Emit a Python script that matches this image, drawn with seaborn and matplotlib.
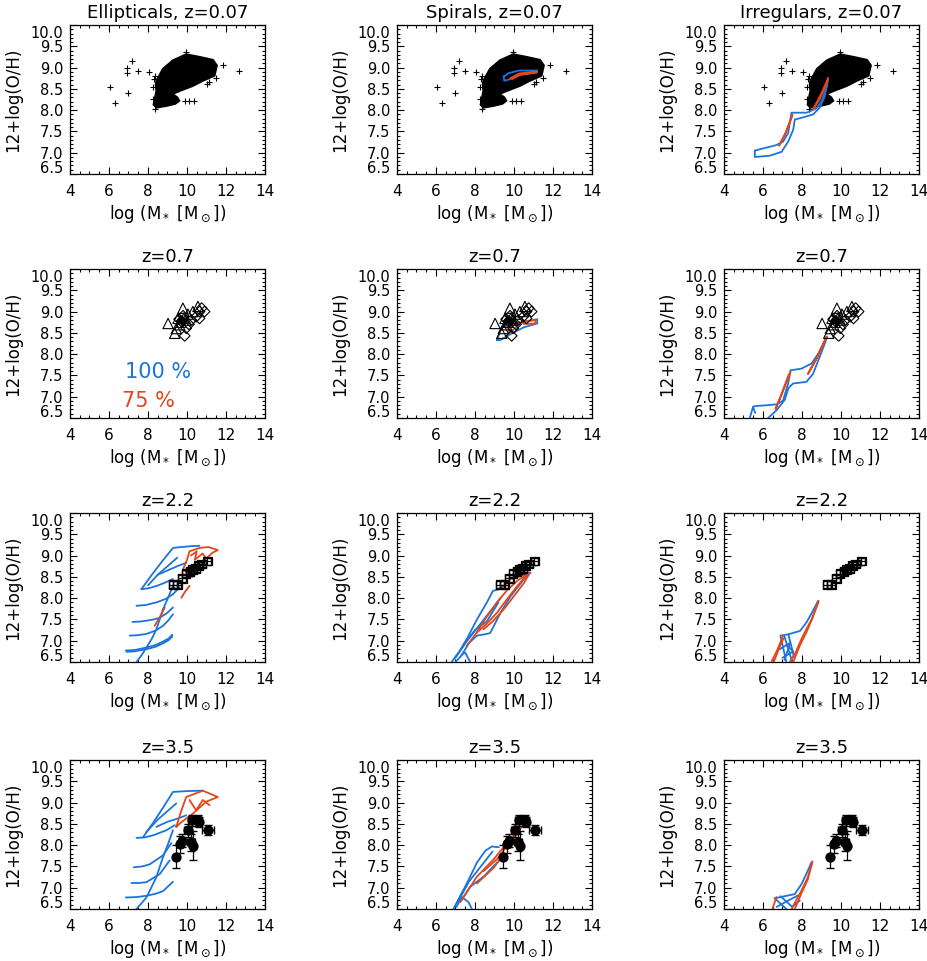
import matplotlib
matplotlib.use("Agg")
import matplotlib.pyplot as plt
import matplotlib.transforms as mtransforms
import pandas as pd
import seaborn as sns
from matplotlib.ticker import MultipleLocator

sns.set_style("ticks")
plt.rcParams["font.family"] = ["DejaVu Sans"]
plt.rcParams["mathtext.fontset"] = "dejavusans"
for key in ["text.color", "axes.labelcolor", "xtick.color", "ytick.color", "axes.edgecolor"]:
    plt.rcParams[key] = "black"

BLUE = "#1a74dc"
ORANGE = "#e2461a"

# local SDSS-like cloud (z=0.07), outline of the dense part + scattered points
CLOUD_X = [8.29, 8.43, 8.40, 8.43, 8.77, 9.28, 9.96, 10.64, 11.33, 11.53, 11.41,
           10.81, 10.30, 9.62, 9.25, 9.50, 9.60, 9.40, 8.94, 8.43]
CLOUD_Y = [8.13, 8.45, 8.60, 8.69, 8.97, 9.17, 9.31, 9.25, 9.18, 9.05, 8.81,
           8.69, 8.57, 8.45, 8.38, 8.30, 8.22, 8.15, 8.10, 8.06]
OUT_X = [6.04, 6.30, 6.90, 6.93, 7.00, 7.19, 7.50, 8.04, 8.34, 9.90, 10.10, 10.35,
         11.15, 11.87, 12.69, 9.96, 8.25, 8.30, 8.28, 11.50, 11.05, 8.35]
OUT_Y = [8.55, 8.16, 8.87, 8.99, 8.40, 9.15, 8.91, 8.89, 8.02, 8.22, 8.21, 8.22,
         8.65, 9.07, 8.93, 9.37, 8.55, 8.72, 8.25, 8.76, 8.62, 8.80]

# z=0.7 observations
Z07_TRI_X = [9.03, 9.37, 9.45, 9.54, 9.62, 9.79, 9.96, 10.05, 10.30, 10.56, 9.70, 9.85]
Z07_TRI_Y = [8.72, 8.49, 8.60, 8.84, 8.69, 9.08, 8.80, 8.94, 9.00, 9.12, 8.75, 8.85]
Z07_DIA_X = [9.88, 10.64, 10.90, 10.47, 10.22, 9.71, 9.96, 10.64, 9.60, 9.80, 10.10, 10.75]
Z07_DIA_Y = [8.43, 9.00, 9.00, 8.88, 8.80, 8.77, 8.61, 8.84, 8.82, 8.90, 8.70, 9.08]
Z07_DOT_X = [9.60, 9.65, 9.70, 9.75, 9.80, 9.68]
Z07_DOT_Y = [8.80, 8.78, 8.83, 8.80, 8.76, 8.86]

# z=2.2 observations
Z22_X = [9.30, 9.50, 9.75, 9.95, 10.15, 10.30, 10.45, 10.60, 10.75, 11.05]
Z22_Y = [8.32, 8.32, 8.47, 8.57, 8.63, 8.67, 8.70, 8.77, 8.80, 8.87]
Z22_XERR = [0.2] * 10
Z22_YERR = [0.08] * 10

# z=3.5 observations
Z35_X = [9.45, 9.62, 9.76, 10.05, 10.22, 10.30, 10.27, 10.56, 10.64, 11.07]
Z35_Y = [7.73, 8.02, 8.10, 8.35, 8.07, 7.99, 8.58, 8.58, 8.54, 8.36]
Z35_XERR = [0.10, 0.15, 0.15, 0.20, 0.20, 0.15, 0.20, 0.15, 0.15, 0.30]
Z35_YERR = [0.27, 0.20, 0.15, 0.15, 0.20, 0.35, 0.12, 0.12, 0.12, 0.12]

# model tracks: (x list, y list) per segment
SPI_Z007_BLUE = [([9.47, 9.50, 9.82, 10.25, 11.19, 11.19, 10.25, 9.73, 9.47],
                  [8.79, 8.69, 8.73, 8.83, 8.89, 8.93, 8.93, 8.87, 8.79])]
SPI_Z007_ORANGE = [([9.82, 10.25, 11.15, 11.15, 10.33, 9.90, 9.82],
                    [8.75, 8.86, 8.91, 8.88, 8.83, 8.73, 8.75])]

IRR_Z007_BLUE = [([5.58, 6.00, 6.69, 7.03, 7.29, 7.46, 8.23, 8.74, 9.00, 9.26, 9.34],
                  [7.05, 7.10, 7.18, 7.26, 7.46, 7.94, 7.94, 8.04, 8.21, 8.53, 8.75]),
                 ([5.58, 5.58, 6.35, 6.95, 7.29, 7.55, 7.63, 7.97, 8.57, 8.91, 9.17, 9.34],
                  [7.05, 6.90, 6.93, 7.02, 7.26, 7.54, 7.78, 7.82, 7.90, 8.06, 8.33, 8.75])]
IRR_Z007_ORANGE = [([6.83, 7.20, 7.51, 7.45, 7.10, 6.83], [7.17, 7.50, 7.90, 7.80, 7.40, 7.17]),
                   ([8.57, 9.00, 9.34, 9.25, 8.90, 8.57], [8.02, 8.40, 8.75, 8.60, 8.25, 8.02])]

SPI_Z07_BLUE = [([9.13, 9.39, 9.82, 10.50, 11.19, 11.19, 10.50, 9.82, 9.30, 9.13],
                 [8.33, 8.65, 8.69, 8.76, 8.82, 8.72, 8.63, 8.47, 8.33, 8.33])]
SPI_Z07_ORANGE = [([9.73, 9.78, 10.25, 10.16, 9.80, 9.73], [8.53, 8.63, 8.76, 8.66, 8.50, 8.53]),
                  ([10.42, 11.10, 11.10, 10.50, 10.42], [8.76, 8.80, 8.72, 8.71, 8.76])]

IRR_Z07_BLUE = [([5.32, 5.49, 5.58, 6.20, 6.69, 7.03, 7.29, 7.41, 7.97, 8.49, 8.83, 9.09, 9.29],
                 [6.50, 6.76, 6.78, 6.80, 6.82, 6.91, 7.31, 7.62, 7.66, 7.78, 8.01, 8.25, 8.41]),
                ([6.26, 6.69, 7.12, 7.30, 7.54, 8.23, 8.57, 8.91, 9.17, 9.29],
                 [6.50, 6.68, 6.93, 7.20, 7.31, 7.35, 7.54, 7.94, 8.25, 8.41]),
                ([5.49, 5.60], [6.76, 6.62])]
IRR_Z07_ORANGE = [([6.65, 7.00, 7.41, 7.30, 6.90, 6.65], [6.72, 7.10, 7.58, 7.50, 7.00, 6.72]),
                  ([8.31, 8.80, 9.26, 9.15, 8.70, 8.31], [7.54, 7.95, 8.41, 8.30, 7.85, 7.54])]

ELL_Z22_BLUE = [([7.41, 7.70, 7.92, 8.20, 8.43, 8.60, 8.77, 9.03, 9.28],
                 [6.50, 6.68, 6.84, 7.05, 7.27, 7.50, 7.74, 8.01, 8.29]),
                ([6.86, 7.30, 7.92, 8.40, 8.77, 9.05, 9.25], [6.77, 6.78, 6.84, 6.90, 6.98, 7.05, 7.14]),
                ([6.90, 7.30, 7.92, 8.40, 8.77, 9.05, 9.25], [6.74, 6.75, 6.80, 6.86, 6.94, 7.01, 7.10]),
                ([7.07, 7.50, 7.92, 8.40, 8.77, 9.05, 9.28], [7.12, 7.13, 7.16, 7.24, 7.35, 7.48, 7.62]),
                ([7.20, 7.60, 7.92, 8.30, 8.60, 8.95, 9.28], [7.44, 7.45, 7.47, 7.50, 7.54, 7.64, 7.78]),
                ([7.41, 7.90, 8.43, 8.90, 9.28, 9.60], [7.82, 7.84, 7.90, 7.98, 8.09, 8.25]),
                ([7.66, 8.00, 8.40, 8.80, 9.28], [8.21, 8.23, 8.28, 8.35, 8.45]),
                ([7.66, 8.20, 8.70, 9.28, 9.70, 10.20, 10.64], [8.21, 8.55, 8.85, 9.18, 9.20, 9.22, 9.23]),
                ([8.00, 8.50, 9.00, 9.50], [8.30, 8.55, 8.75, 8.95]),
                ([8.50, 9.00, 9.50, 9.96], [8.55, 8.65, 8.75, 8.83])]
ELL_Z22_ORANGE = [([9.79, 10.00, 10.13, 10.64, 11.10, 11.58, 11.32, 10.90, 10.64, 10.30, 9.79],
                   [8.67, 8.90, 9.10, 9.18, 9.20, 9.13, 9.07, 8.90, 8.75, 8.50, 8.67]),
                  ([10.20, 10.50, 10.40, 10.80, 10.95], [9.00, 9.10, 8.90, 9.05, 8.95]),
                  ([9.71, 9.90, 10.13], [8.01, 8.15, 8.29]),
                  ([8.34, 8.60, 8.86], [7.35, 7.55, 7.78])]

ELL_Z35_BLUE = [([7.41, 7.92, 8.43, 8.77, 9.03, 9.28], [6.50, 6.77, 7.25, 7.72, 8.03, 8.35]),
                ([6.86, 7.40, 7.92, 8.40, 8.77, 9.28], [6.77, 6.78, 6.81, 6.86, 6.92, 7.14]),
                ([7.15, 7.50, 7.92, 8.60, 9.11], [7.11, 7.11, 7.13, 7.32, 7.64]),
                ([7.27, 7.70, 8.09, 8.77, 9.20], [7.48, 7.50, 7.55, 7.76, 8.05]),
                ([7.41, 7.80, 8.26, 8.94, 9.37], [8.17, 8.18, 8.23, 8.35, 8.47]),
                ([7.75, 8.30, 8.80, 9.28, 10.00, 10.81], [8.19, 8.55, 8.90, 9.25, 9.27, 9.28]),
                ([7.92, 8.50, 9.00, 9.45], [8.31, 8.60, 8.80, 8.98]),
                ([8.43, 9.00, 9.50, 9.96], [8.43, 8.55, 8.62, 8.70])]
ELL_Z35_ORANGE = [([9.45, 9.70, 9.96, 10.81, 11.58, 10.98, 10.30, 9.71, 9.45],
                   [8.43, 8.80, 9.13, 9.28, 9.13, 9.02, 8.74, 8.54, 8.43]),
                  ([10.13, 10.47, 10.81, 11.15], [9.06, 8.82, 9.06, 8.94])]

SPI_Z22_BLUE = [([6.80, 7.20, 7.58, 8.10, 8.61, 8.92, 9.22], [6.50, 6.75, 7.04, 7.50, 7.90, 8.17, 8.21]),
                ([7.30, 7.70, 8.10, 8.50, 8.78, 9.30, 9.82, 10.50, 10.85],
                 [6.65, 6.95, 7.12, 7.15, 7.18, 7.65, 8.04, 8.44, 8.60]),
                ([7.00, 7.60, 8.20, 8.80, 9.30], [6.60, 7.00, 7.35, 7.70, 8.00]),
                ([7.40, 8.00, 8.60, 9.20], [6.90, 7.25, 7.45, 7.90]),
                ([7.00, 7.40, 7.50, 7.75], [6.50, 6.70, 6.72, 6.50])]
SPI_Z22_ORANGE = [([7.58, 8.10, 8.61, 9.13, 9.65, 10.20, 10.76], [6.88, 7.20, 7.57, 7.90, 8.19, 8.42, 8.58]),
                  ([8.10, 8.60, 9.13, 9.65, 10.16, 10.76], [7.19, 7.40, 7.66, 7.98, 8.28, 8.60]),
                  ([8.44, 8.90, 9.48, 10.00, 10.50, 10.76], [7.27, 7.45, 7.74, 8.05, 8.35, 8.55]),
                  ([9.20, 9.50, 9.82, 10.20, 10.76], [8.20, 8.30, 8.45, 8.50, 8.60])]

SPI_Z35_BLUE = [([6.89, 7.58, 8.10, 8.53, 8.87, 9.22], [6.50, 7.10, 7.59, 7.87, 7.97, 7.95]),
                ([7.30, 7.75, 8.44, 8.96, 9.47], [6.70, 7.02, 7.26, 7.51, 7.75]),
                ([7.10, 7.70, 8.30, 8.90], [6.65, 7.15, 7.50, 7.85]),
                ([7.05, 7.32, 7.67, 7.84], [6.55, 6.78, 6.66, 6.50])]
SPI_Z35_ORANGE = [([7.24, 8.10, 8.96, 9.82, 10.50], [6.66, 7.26, 7.67, 8.15, 8.47]),
                  ([8.44, 9.13, 9.65, 10.16], [7.39, 7.67, 7.99, 8.31]),
                  ([8.10, 8.96, 9.47], [7.10, 7.47, 7.79])]

IRR_Z22_BLUE = [([6.90, 7.30, 7.90, 8.23, 8.50, 8.83], [7.12, 7.15, 7.23, 7.43, 7.65, 7.94]),
                ([6.90, 7.20], [7.10, 6.50]), ([7.10, 7.50], [7.10, 6.50]),
                ([7.30, 7.60], [7.15, 6.60]), ([6.85, 7.40, 7.10], [6.80, 6.95, 6.55]),
                ([7.00, 7.55, 7.20], [6.60, 6.75, 6.90])]
IRR_Z22_ORANGE = [([6.43, 6.75, 7.03], [6.50, 6.80, 7.12]),
                  ([6.55, 6.85, 7.05], [6.50, 6.85, 7.05]),
                  ([7.37, 7.70, 7.97, 8.20, 8.49, 8.86], [6.50, 6.75, 7.04, 7.25, 7.50, 7.93]),
                  ([7.55, 7.90, 8.23, 8.55, 8.83], [6.50, 6.90, 7.20, 7.55, 7.90])]

IRR_Z35_BLUE = [([6.60, 7.10, 7.63, 7.97, 8.25, 8.49], [6.75, 6.80, 6.85, 7.08, 7.35, 7.60]),
                ([6.60, 7.20], [6.75, 6.50]), ([6.90, 7.50, 7.89], [6.80, 6.55, 6.70]),
                ([6.70, 7.30, 7.80], [6.55, 6.70, 6.82])]
IRR_Z35_ORANGE = [([6.48, 6.69], [6.50, 6.78]),
                  ([7.46, 7.97, 8.30, 8.54], [6.50, 6.93, 7.25, 7.62]),
                  ([7.63, 8.00, 8.30, 8.50], [6.50, 6.90, 7.20, 7.55])]

TITLES = [["Ellipticals, z=0.07", "Spirals, z=0.07", "Irregulars, z=0.07"],
          ["z=0.7"] * 3, ["z=2.2"] * 3, ["z=3.5"] * 3]
TRACKS = [[(None, None), (SPI_Z007_BLUE, SPI_Z007_ORANGE), (IRR_Z007_BLUE, IRR_Z007_ORANGE)],
          [(None, None), (SPI_Z07_BLUE, SPI_Z07_ORANGE), (IRR_Z07_BLUE, IRR_Z07_ORANGE)],
          [(ELL_Z22_BLUE, ELL_Z22_ORANGE), (SPI_Z22_BLUE, SPI_Z22_ORANGE), (IRR_Z22_BLUE, IRR_Z22_ORANGE)],
          [(ELL_Z35_BLUE, ELL_Z35_ORANGE), (SPI_Z35_BLUE, SPI_Z35_ORANGE), (IRR_Z35_BLUE, IRR_Z35_ORANGE)]]
X_TICKS = [4, 6, 8, 10, 12, 14]
Y_TICKS = [6.5, 7.0, 7.5, 8.0, 8.5, 9.0, 9.5, 10.0]

W, H = 928, 961
COL_LEFT = [70, 397, 724]
ROW_TOP = [25, 269, 513, 760]
AX_W, AX_H = 195, 149


def draw_tracks(ax, segs, color):
    if not segs:
        return
    rows = []
    for i, (xs, ys) in enumerate(segs):
        for x, y in zip(xs, ys):
            rows.append({"x": x, "y": y, "seg": i})
    df = pd.DataFrame(rows)
    sns.lineplot(data=df, x="x", y="y", units="seg", estimator=None, sort=False,
                 color=color, lw=1.3, ax=ax, legend=False, zorder=3)


def style_axes(ax, fig):
    ax.set_xlim(4, 14)
    ax.set_ylim(6.5, 10.0)
    ax.set_xticks(X_TICKS)
    ax.set_xticklabels([str(v) for v in X_TICKS])
    ax.set_yticks(Y_TICKS)
    labels = ax.set_yticklabels([f"{v:.1f}" for v in Y_TICKS])
    ax.xaxis.set_minor_locator(MultipleLocator(0.5))
    ax.yaxis.set_minor_locator(MultipleLocator(0.1))
    ax.tick_params(which="both", direction="in", top=True, right=True, width=0.8, color="black")
    ax.tick_params(which="major", length=5, pad=7)
    ax.tick_params(axis="x", labelsize=11)
    ax.tick_params(axis="y", labelsize=10.5, pad=5)
    ax.tick_params(which="minor", length=2.5)
    # end labels pulled inside the frame, as in the original
    up = mtransforms.ScaledTranslation(0, 5 / 72, fig.dpi_scale_trans)
    down = mtransforms.ScaledTranslation(0, -5 / 72, fig.dpi_scale_trans)
    labels[0].set_transform(labels[0].get_transform() + up)
    labels[-1].set_transform(labels[-1].get_transform() + down)
    for s in ax.spines.values():
        s.set_linewidth(0.9)
        s.set_color("black")
    ax.set_xlabel(r"log (M$_*$ [M$_\odot$])", fontsize=12, labelpad=3)
    ax.set_ylabel("12+log(O/H)", fontsize=12, labelpad=6)


fig = plt.figure(figsize=(W / 100, H / 100), dpi=100)

for r in range(4):
    for c in range(3):
        ax = fig.add_axes([COL_LEFT[c] / W, 1 - (ROW_TOP[r] + AX_H) / H, AX_W / W, AX_H / H])
        ax.set_title(TITLES[r][c], fontsize=13, pad=5)

        if r == 0:
            ax.fill(CLOUD_X, CLOUD_Y, color="black", lw=1.5, zorder=2)
            sns.scatterplot(x=OUT_X, y=OUT_Y, marker="+", color="black", s=14,
                            linewidth=0.8, ax=ax, zorder=2)
        elif r == 1:
            sns.scatterplot(x=Z07_TRI_X, y=Z07_TRI_Y, marker="^", s=55, facecolor="none",
                            edgecolor="black", linewidth=0.8, ax=ax, zorder=4)
            sns.scatterplot(x=Z07_DIA_X, y=Z07_DIA_Y, marker="D", s=30, facecolor="none",
                            edgecolor="black", linewidth=0.8, ax=ax, zorder=4)
            sns.scatterplot(x=Z07_DOT_X, y=Z07_DOT_Y, marker="o", s=14, color="black",
                            linewidth=0, ax=ax, zorder=4)
        elif r == 2:
            ax.errorbar(Z22_X, Z22_Y, xerr=Z22_XERR, yerr=Z22_YERR, fmt="none",
                        ecolor="black", elinewidth=0.9, capsize=3, zorder=4)
            sns.scatterplot(x=Z22_X, y=Z22_Y, marker="s", s=40, facecolor="none",
                            edgecolor="black", linewidth=0.9, ax=ax, zorder=5)
        else:
            ax.errorbar(Z35_X, Z35_Y, xerr=Z35_XERR, yerr=Z35_YERR, fmt="none",
                        ecolor="black", elinewidth=0.9, capsize=3, zorder=4)
            sns.scatterplot(x=Z35_X, y=Z35_Y, marker="o", s=55, color="black",
                            linewidth=0, ax=ax, zorder=5)

        blue, orange = TRACKS[r][c]
        draw_tracks(ax, blue, BLUE)
        draw_tracks(ax, orange, ORANGE)

        if r == 1 and c == 0:
            ax.text(6.8, 7.58, "100 %", color=BLUE, fontsize=15, va="center")
            ax.text(6.69, 6.89, "75 %", color=ORANGE, fontsize=15, va="center")

        style_axes(ax, fig)

fig.savefig("out.png", dpi=100)
